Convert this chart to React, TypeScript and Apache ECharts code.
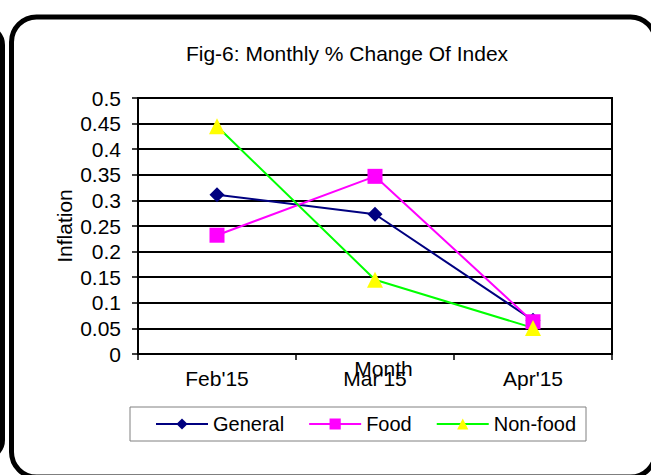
import React, { useEffect, useRef } from "react";
import * as echarts from "echarts";

const categories = ["Feb'15", "Mar'15", "Apr'15"];
const generalValues = [0.311, 0.273, 0.066];
const foodValues = [0.232, 0.347, 0.063];
const nonFoodValues = [0.445, 0.145, 0.051];
const yMin = 0;
const yMax = 0.5;
const yInterval = 0.05;
const titleText = "Fig-6: Monthly % Change Of Index";
const xName = "Month";
const yName = "Inflation";

export default function App() {
  const ref = useRef<HTMLDivElement>(null);
  useEffect(() => {
    const chart = echarts.init(ref.current!, undefined, { renderer: "svg" });
    const font = "'Liberation Sans', Arial, sans-serif";
    chart.setOption({
      animation: false,
      backgroundColor: "#fff",
      textStyle: { fontFamily: font },
      graphic: [
        {
          type: "rect",
          z: -10,
          shape: { x: -300, y: 27, width: 302.5, height: 431, r: 18 },
          style: { fill: "none", stroke: "#000", lineWidth: 5 },
        },
        {
          type: "rect",
          z: -10,
          shape: { x: 11.5, y: 17, width: 644, height: 460, r: 25 },
          style: { fill: "none", stroke: "#000", lineWidth: 5 },
        },
      ],
      title: {
        text: titleText,
        left: 347,
        top: 43,
        textAlign: "center",
        padding: 0,
        textStyle: { fontFamily: font, fontSize: 21, fontWeight: "normal", color: "#000" },
      },
      legend: {
        left: 130,
        top: 407,
        padding: [7, 10, 7, 25],
        itemGap: 24,
        itemWidth: 52,
        itemHeight: 14,
        borderColor: "#808080",
        borderWidth: 1,
        backgroundColor: "#fff",
        textStyle: { fontFamily: font, fontSize: 20, color: "#000" },
        data: ["General", "Food", "Non-food"],
      },
      grid: {
        left: 138,
        top: 98,
        width: 474,
        height: 256,
        show: true,
        borderColor: "#000",
        borderWidth: 2,
        backgroundColor: "#fff",
      },
      xAxis: {
        type: "category",
        data: categories,
        boundaryGap: true,
        name: xName,
        nameLocation: "middle",
        nameGap: 4,
        nameMoveOverlap: false,
        nameTextStyle: { fontFamily: font, fontSize: 21, color: "#000", padding: [0, 0, 0, 17] },
        axisLine: { lineStyle: { color: "#000", width: 2 } },
        axisTick: { show: true, length: 6, lineStyle: { color: "#000", width: 1.5 } },
        axisLabel: { margin: 14, fontFamily: font, fontSize: 21, color: "#000" },
        splitLine: { show: false },
      },
      yAxis: {
        type: "value",
        min: yMin,
        max: yMax,
        interval: yInterval,
        name: yName,
        nameLocation: "middle",
        nameGap: 63,
        nameMoveOverlap: false,
        nameRotate: 90,
        nameTextStyle: { fontFamily: font, fontSize: 21, color: "#000" },
        axisLine: { show: true, lineStyle: { color: "#000", width: 2 } },
        axisTick: { show: true, length: 6, lineStyle: { color: "#000", width: 1.5 } },
        axisLabel: { margin: 17, fontFamily: font, fontSize: 21, color: "#000" },
        splitLine: { show: true, lineStyle: { color: "#000", width: 2 } },
      },
      series: [
        {
          name: "General",
          type: "line",
          data: generalValues,
          symbol: "diamond",
          symbolSize: 15,
          lineStyle: { color: "#000080", width: 2 },
          itemStyle: { color: "#000080" },
        },
        {
          name: "Food",
          type: "line",
          data: foodValues,
          symbol: "rect",
          symbolSize: 15,
          lineStyle: { color: "#FF00FF", width: 2 },
          itemStyle: { color: "#FF00FF" },
        },
        {
          name: "Non-food",
          type: "line",
          data: nonFoodValues,
          symbol: "triangle",
          symbolSize: 16,
          lineStyle: { color: "#00FF00", width: 2 },
          itemStyle: { color: "#FFFF00" },
        },
      ],
    });
    return () => chart.dispose();
  }, []);
  return (
    <div
      ref={ref}
      style={{ position: "fixed", left: 0, top: 0, width: 651, height: 475, background: "#fff" }}
    />
  );
}
